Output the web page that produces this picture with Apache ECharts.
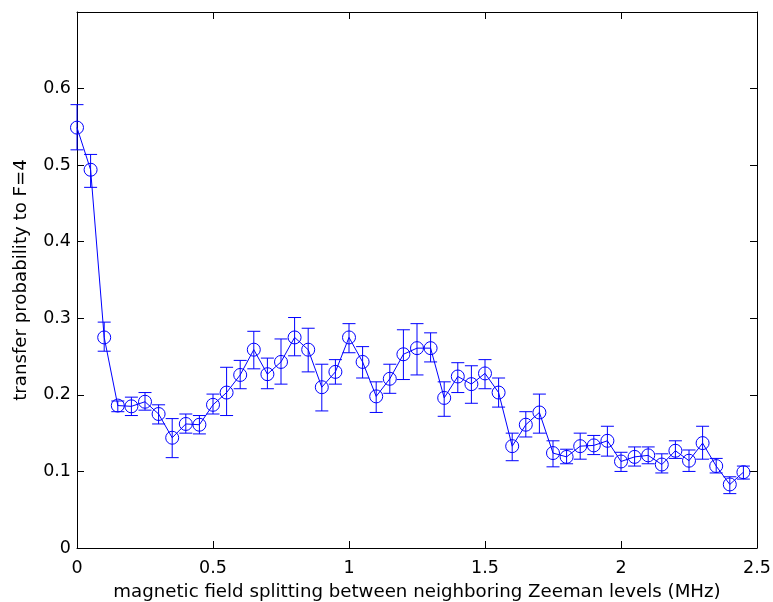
<!DOCTYPE html>
<html>
<head>
<meta charset="utf-8">
<script src="https://cdn.jsdelivr.net/npm/echarts@6/dist/echarts.min.js"></script>
<style>html,body{margin:0;padding:0;background:#fff;overflow:hidden}#c{width:773px;height:602px}</style>
</head>
<body>
<div id="c"></div>
<script>
var xValues = [0.00,0.05,0.10,0.15,0.20,0.25,0.30,0.35,0.40,0.45,
               0.50,0.55,0.60,0.65,0.70,0.75,0.80,0.85,0.90,0.95,
               1.00,1.05,1.10,1.15,1.20,1.25,1.30,1.35,1.40,1.45,
               1.50,1.55,1.60,1.65,1.70,1.75,1.80,1.85,1.90,1.95,
               2.00,2.05,2.10,2.15,2.20,2.25,2.30,2.35,2.40,2.45];
var yValues = [0.549,0.494,0.275,0.186,0.185,0.191,0.175,0.144,0.162,0.161,
               0.187,0.203,0.226,0.259,0.227,0.243,0.275,0.259,0.210,0.230,
               0.275,0.243,0.198,0.221,0.253,0.261,0.261,0.196,0.224,0.214,
               0.228,0.203,0.133,0.161,0.177,0.124,0.119,0.133,0.134,0.140,
               0.113,0.119,0.121,0.109,0.127,0.114,0.137,0.107,0.083,0.099];
var yUpper = [0.579,0.514,0.295,0.192,0.197,0.203,0.187,0.169,0.175,0.173,
              0.201,0.236,0.245,0.283,0.248,0.273,0.301,0.287,0.240,0.246,
              0.293,0.263,0.217,0.240,0.285,0.293,0.281,0.217,0.242,0.238,
              0.246,0.222,0.150,0.178,0.201,0.140,0.129,0.150,0.147,0.159,
              0.125,0.132,0.132,0.123,0.140,0.128,0.159,0.117,0.093,0.107];
var yLower = [0.520,0.471,0.257,0.178,0.173,0.180,0.162,0.118,0.150,0.149,
              0.175,0.173,0.208,0.234,0.208,0.214,0.251,0.230,0.179,0.214,
              0.255,0.222,0.177,0.202,0.220,0.226,0.243,0.172,0.203,0.189,
              0.208,0.184,0.114,0.145,0.150,0.106,0.110,0.116,0.122,0.120,
              0.100,0.107,0.110,0.098,0.117,0.100,0.116,0.098,0.071,0.090];
var xTicks = [0, 0.5, 1, 1.5, 2, 2.5];
var yTicks = [0, 0.1, 0.2, 0.3, 0.4, 0.5, 0.6, 0.7];
var xLabel = 'magnetic field splitting between neighboring Zeeman levels (MHz)';
var yLabel = 'transfer probability to F=4';

var lineData = xValues.map(function(x, i){ return [x, yValues[i]]; });
var errData = xValues.map(function(x, i){ return [x, yLower[i], yUpper[i]]; });

var font = 'DejaVu Sans, sans-serif';
var blue = '#0000ff';
var chart = echarts.init(document.getElementById('c'), null, {renderer: 'canvas'});
var capHalf = 6.5;
function tickFmt(v){ var r = Math.round(v*10)/10; return String(r); }
chart.setOption({
  animation: false,
  backgroundColor: '#fff',
  color: [blue],
  grid: {left: 77, right: 16, top: 12, bottom: 54, containLabel: false, outerBoundsMode: 'none'},
  xAxis: [{
    type: 'value', min: xTicks[0], max: xTicks[xTicks.length-1], interval: 0.5, position: 'bottom',
    name: xLabel, nameLocation: 'middle', nameGap: 35,
    nameTextStyle: {fontFamily: font, fontSize: 18.2, color: '#000'},
    axisLine: {show: true, onZero: false, lineStyle: {color: '#000', width: 1}},
    axisTick: {show: true, inside: true, length: 7, lineStyle: {color: '#000'}},
    axisLabel: {fontFamily: font, fontSize: 17.5, color: '#000', margin: 11, formatter: tickFmt},
    splitLine: {show: false}
  }, {
    type: 'value', min: xTicks[0], max: xTicks[xTicks.length-1], interval: 0.5, position: 'top',
    axisLine: {show: true, onZero: false, lineStyle: {color: '#000', width: 1}},
    axisTick: {show: true, inside: true, length: 7, lineStyle: {color: '#000'}},
    axisLabel: {show: false}, splitLine: {show: false}
  }],
  yAxis: [{
    type: 'value', min: yTicks[0], max: yTicks[yTicks.length-1], interval: 0.1, position: 'left',
    name: yLabel, nameLocation: 'middle', nameGap: 47,
    nameTextStyle: {fontFamily: font, fontSize: 18.2, color: '#000'},
    axisLine: {show: true, onZero: false, lineStyle: {color: '#000', width: 1}},
    axisTick: {show: true, inside: true, length: 7, lineStyle: {color: '#000'}},
    axisLabel: {fontFamily: font, fontSize: 17.5, color: '#000', margin: 6,
      formatter: function(v){ var r = Math.round(v*10)/10; return r >= 0.7 ? '' : String(r); }},
    splitLine: {show: false}
  }, {
    type: 'value', min: yTicks[0], max: yTicks[yTicks.length-1], interval: 0.1, position: 'right',
    axisLine: {show: true, onZero: false, lineStyle: {color: '#000', width: 1}},
    axisTick: {show: true, inside: true, length: 7, lineStyle: {color: '#000'}},
    axisLabel: {show: false}, splitLine: {show: false}
  }],
  series: [{
    type: 'custom',
    xAxisIndex: 0, yAxisIndex: 0,
    data: errData,
    encode: {x: 0, y: [1, 2]},
    renderItem: function(params, api){
      var x = api.value(0);
      var lo = api.coord([x, api.value(1)]);
      var hi = api.coord([x, api.value(2)]);
      var st = {stroke: blue, lineWidth: 1, fill: null};
      return {type: 'group', children: [
        {type: 'line', shape: {x1: lo[0], y1: lo[1], x2: hi[0], y2: hi[1]}, style: st},
        {type: 'line', shape: {x1: lo[0]-capHalf, y1: lo[1], x2: lo[0]+capHalf, y2: lo[1]}, style: st},
        {type: 'line', shape: {x1: hi[0]-capHalf, y1: hi[1], x2: hi[0]+capHalf, y2: hi[1]}, style: st}
      ]};
    },
    z: 2
  }, {
    type: 'line',
    xAxisIndex: 0, yAxisIndex: 0,
    data: lineData,
    symbol: 'circle', symbolSize: 13,
    lineStyle: {color: blue, width: 1},
    itemStyle: {color: 'transparent', borderColor: blue, borderWidth: 1, opacity: 1},
    emphasis: {disabled: true},
    clip: false,
    z: 3
  }]
});
</script>
</body>
</html>
